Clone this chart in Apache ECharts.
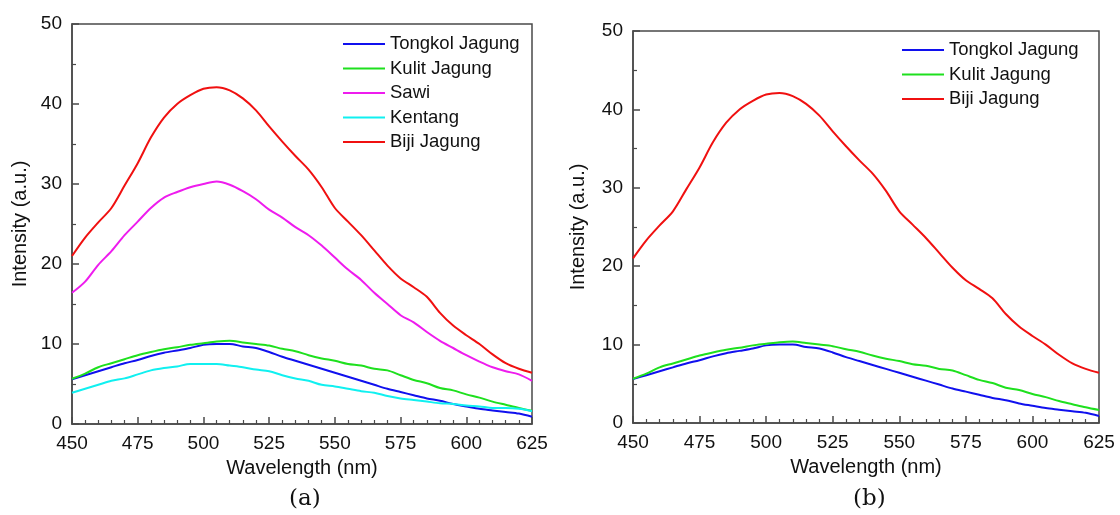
<!DOCTYPE html>
<html>
<head>
<meta charset="utf-8">
<script src="https://cdn.jsdelivr.net/npm/echarts@6/dist/echarts.min.js"></script>
<style>
html, body { margin: 0; padding: 0; background: #fff; }
#chart { width: 1120px; height: 515px; }
</style>
</head>
<body>
<div id="chart"></div>
<script>
// wavelength grid (nm)
var wavelength = [450, 455, 460, 465, 470, 475, 480, 485, 490, 495, 500, 505, 510, 515, 520, 525, 530, 535,
    540, 545, 550, 555, 560, 565, 570, 575, 580, 585, 590, 595, 600, 605, 610, 615, 620, 625];

var tongkol = [5.6, 6.1, 6.6, 7.1, 7.6, 8.0, 8.5, 8.9, 9.2, 9.5, 9.9, 10.0, 10.0, 9.7, 9.5, 9.0, 8.4, 7.9,
    7.4, 6.9, 6.4, 5.9, 5.4, 4.9, 4.4, 4.0, 3.6, 3.2, 2.9, 2.5, 2.2, 1.9, 1.7, 1.5, 1.3, 0.9];
var kulit = [5.65, 6.3, 7.1, 7.6, 8.1, 8.6, 9.0, 9.35, 9.6, 9.9, 10.1, 10.3, 10.4, 10.2, 10.0, 9.8, 9.4, 9.1,
    8.6, 8.2, 7.9, 7.5, 7.3, 6.9, 6.7, 6.1, 5.5, 5.1, 4.5, 4.2, 3.7, 3.3, 2.8, 2.4, 2.0, 1.65];
var sawi = [16.4, 17.8, 19.9, 21.6, 23.6, 25.3, 27.0, 28.3, 29.0, 29.6, 30.0, 30.3, 29.9, 29.1, 28.1, 26.8, 25.8, 24.6,
    23.6, 22.3, 20.8, 19.3, 18.0, 16.4, 15.0, 13.6, 12.7, 11.5, 10.4, 9.5, 8.6, 7.8, 7.1, 6.6, 6.2, 5.4];
var kentang = [3.9, 4.4, 4.9, 5.4, 5.7, 6.2, 6.7, 7.0, 7.2, 7.5, 7.5, 7.5, 7.3, 7.1, 6.8, 6.6, 6.1, 5.7,
    5.4, 4.9, 4.7, 4.4, 4.1, 3.9, 3.5, 3.2, 3.0, 2.8, 2.6, 2.5, 2.3, 2.2, 2.0, 2.0, 1.9, 1.6];
var biji = [21.0, 23.3, 25.2, 27.0, 29.8, 32.6, 35.8, 38.3, 40.0, 41.1, 41.9, 42.1, 41.7, 40.7, 39.2, 37.2, 35.3, 33.5,
    31.8, 29.6, 27.0, 25.3, 23.6, 21.7, 19.8, 18.2, 17.1, 15.9, 13.9, 12.3, 11.1, 10.0, 8.7, 7.6, 6.9, 6.4];

var panelLabels = ['(a)', '(b)'];

var axisColor = '#4a4a4a';
var font = 'Arial, "Liberation Sans", sans-serif';

function pairs(ys) {
    return wavelength.map(function (x, i) { return [x, ys[i]]; });
}

function xAxisFor(idx) {
    return {
        type: 'value', gridIndex: idx, min: 450, max: 625, interval: 25,
        name: 'Wavelength (nm)', nameLocation: 'middle', nameGap: 34,
        nameTextStyle: { fontFamily: font, fontSize: 20, color: '#111' },
        axisLine: { show: true, lineStyle: { color: axisColor, width: 1.5 } },
        axisTick: { show: true, inside: true, length: 7, lineStyle: { color: axisColor, width: 1.5 } },
        minorTick: { show: true, splitNumber: 5, length: 4, lineStyle: { color: axisColor, width: 1.2 } },
        axisLabel: { fontFamily: font, fontSize: 19, color: '#111', margin: 10 },
        splitLine: { show: false }
    };
}

function yAxisFor(idx, gap) {
    return {
        type: 'value', gridIndex: idx, min: 0, max: 50, interval: 10,
        name: 'Intensity (a.u.)', nameLocation: 'middle', nameGap: gap,
        nameTextStyle: { fontFamily: font, fontSize: 20, color: '#111' },
        axisLine: { show: true, lineStyle: { color: axisColor, width: 1.5 } },
        axisTick: { show: true, inside: true, length: 7, lineStyle: { color: axisColor, width: 1.5 } },
        minorTick: { show: true, splitNumber: 2, length: 4, lineStyle: { color: axisColor, width: 1.2 } },
        axisLabel: { fontFamily: font, fontSize: 19, color: '#111', margin: 10 },
        splitLine: { show: false }
    };
}

function line(name, ys, color, idx) {
    return {
        name: name, type: 'line', xAxisIndex: idx, yAxisIndex: idx,
        data: pairs(ys), showSymbol: false, smooth: 0.3,
        lineStyle: { color: color, width: 2 }, itemStyle: { color: color },
        animation: false
    };
}

var legendText = { fontFamily: font, fontSize: 18.5, color: '#111', lineHeight: 20 };

var chart = echarts.init(document.getElementById('chart'));
chart.setOption({
    backgroundColor: '#fff',
    animation: false,
    grid: [
        { left: 72, top: 24, width: 460, height: 400, show: true, borderColor: axisColor, borderWidth: 1.5, backgroundColor: 'transparent' },
        { left: 633, top: 31, width: 466, height: 392, show: true, borderColor: axisColor, borderWidth: 1.5, backgroundColor: 'transparent' }
    ],
    xAxis: [xAxisFor(0), xAxisFor(1)],
    yAxis: [yAxisFor(0, 42), yAxisFor(1, 45)],
    legend: [
        {
            orient: 'vertical', left: 343, top: 34, padding: 0, itemWidth: 42, itemHeight: 2, itemGap: 4.5,
            icon: 'rect', textStyle: legendText, selectedMode: false,
            data: ['Tongkol Jagung', 'Kulit Jagung', 'Sawi', 'Kentang', 'Biji Jagung']
        },
        {
            orient: 'vertical', left: 902, top: 40, padding: 0, itemWidth: 42, itemHeight: 2, itemGap: 4.5,
            icon: 'rect', textStyle: legendText, selectedMode: false,
            data: ['Tongkol Jagung ', 'Kulit Jagung ', 'Biji Jagung ']
        }
    ],
    graphic: [
        { type: 'text', left: 289, top: 488, style: { text: panelLabels[0], font: '23px "DejaVu Serif", "Liberation Serif", serif', fill: '#111' } },
        { type: 'text', left: 853, top: 488, style: { text: panelLabels[1], font: '23px "DejaVu Serif", "Liberation Serif", serif', fill: '#111' } }
    ],
    series: [
        line('Tongkol Jagung', tongkol, '#1010ee', 0),
        line('Kulit Jagung', kulit, '#1ee01e', 0),
        line('Sawi', sawi, '#ee1cee', 0),
        line('Kentang', kentang, '#10f0f0', 0),
        line('Biji Jagung', biji, '#f01010', 0),
        line('Tongkol Jagung ', tongkol, '#1010ee', 1),
        line('Kulit Jagung ', kulit, '#1ee01e', 1),
        line('Biji Jagung ', biji, '#f01010', 1)
    ]
});
</script>
</body>
</html>
